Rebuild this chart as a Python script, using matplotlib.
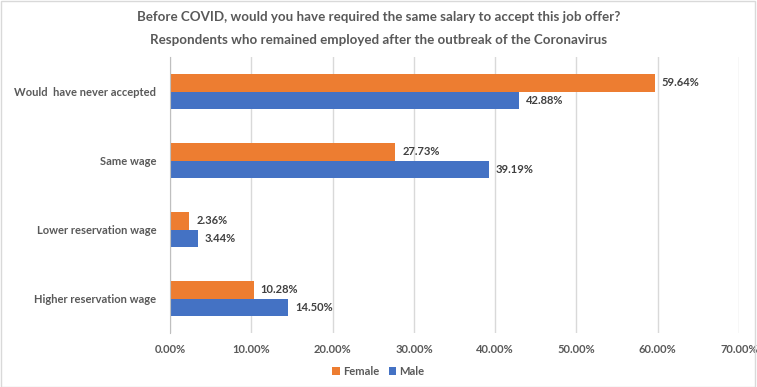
import matplotlib.pyplot as plt
from matplotlib.patches import Rectangle

categories = ["Would  have never accepted", "Same wage",
              "Lower reservation wage", "Higher reservation wage"]
female = [59.64, 27.73, 2.36, 10.28]
male = [42.88, 39.19, 3.44, 14.50]
xticks = [0, 10, 20, 30, 40, 50, 60, 70]

ORANGE = "#ED7D31"
BLUE = "#4472C4"
GREY = "#595959"

plt.rcParams["font.family"] = ["Lato", "DejaVu Sans"]

fig = plt.figure(figsize=(7.57, 3.87), dpi=100)
fig.patches.append(Rectangle((0.001, 0.001), 0.997, 0.997, transform=fig.transFigure,
                             fill=False, edgecolor="#D9D9D9", linewidth=1))
ax = fig.add_axes([0.2246, 0.1395, 0.7517, 0.7132])

ypos = list(range(len(categories) - 1, -1, -1))
h = 0.25
bf = ax.barh([y + h / 2 for y in ypos], female, height=h, color=ORANGE, label="Female")
bm = ax.barh([y - h / 2 for y in ypos], male, height=h, color=BLUE, label="Male")

for bars, vals in ((bf, female), (bm, male)):
    for b, v in zip(bars, vals):
        ax.annotate(f"{v:.2f}%", (v, b.get_y() + b.get_height() / 2),
                    xytext=(5, 0), textcoords="offset points", va="center",
                    ha="left", fontsize=8, fontweight="bold", color="#404040")

ax.set_xlim(0, 70)
ax.set_ylim(-0.5, len(categories) - 0.5)
ax.set_xticks(xticks)
ax.set_xticklabels([f"{t:.2f}%" for t in xticks], fontsize=8, fontweight="bold", color=GREY)
ax.set_yticks(ypos)
ax.set_yticklabels(categories, fontsize=8, fontweight="bold", color=GREY)
ax.tick_params(axis="both", length=0)
ax.tick_params(axis="x", pad=8)
ax.tick_params(axis="y", pad=10)
ax.grid(axis="x", color="#D9D9D9", linewidth=1)
ax.set_axisbelow(True)
for s in ("top", "right", "bottom"):
    ax.spines[s].set_visible(False)
ax.spines["left"].set_color("#BFBFBF")

fig.text(0.5, 0.955, "Before COVID, would you have required the same salary to accept this job offer?",
         ha="center", va="center", fontsize=9.6, fontweight="bold", color=GREY)
fig.text(0.5, 0.897, "Respondents who remained employed after the outbreak of the Coronavirus",
         ha="center", va="center", fontsize=9.6, fontweight="bold", color=GREY)

fig.legend(handles=[bf, bm], loc="center", bbox_to_anchor=(0.5, 0.04), ncol=2,
           frameon=False, handlelength=0.7, handleheight=0.7,
           handletextpad=0.3, columnspacing=0.8, prop={"weight": "bold", "size": 8},
           labelcolor=GREY)

fig.savefig("out.png", dpi=100)
